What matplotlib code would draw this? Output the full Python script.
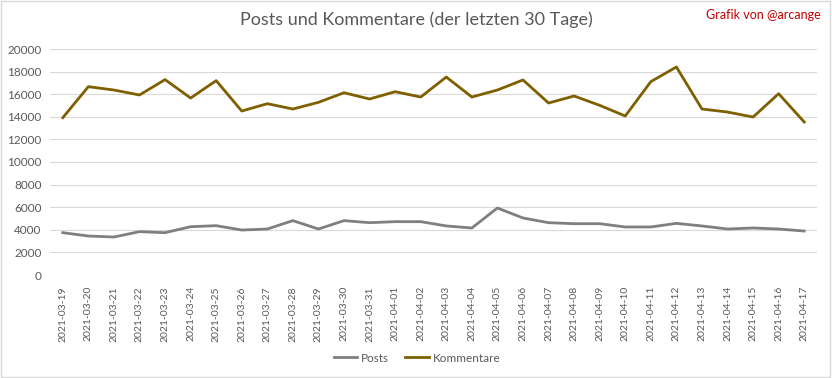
import matplotlib
matplotlib.use("Agg")
import matplotlib.pyplot as plt
from matplotlib.patches import Rectangle

plt.rcParams['font.family'] = ['Lato', 'DejaVu Sans']

# data
dates = ["2021-03-19", "2021-03-20", "2021-03-21", "2021-03-22", "2021-03-23",
         "2021-03-24", "2021-03-25", "2021-03-26", "2021-03-27", "2021-03-28",
         "2021-03-29", "2021-03-30", "2021-03-31", "2021-04-01", "2021-04-02",
         "2021-04-03", "2021-04-04", "2021-04-05", "2021-04-06", "2021-04-07",
         "2021-04-08", "2021-04-09", "2021-04-10", "2021-04-11", "2021-04-12",
         "2021-04-13", "2021-04-14", "2021-04-15", "2021-04-16", "2021-04-17"]
posts = [3745, 3450, 3360, 3835, 3745, 4275, 4365, 3980, 4070, 4810,
         4070, 4810, 4630, 4720, 4720, 4340, 4160, 5930, 5045, 4630,
         4540, 4540, 4250, 4250, 4570, 4340, 4070, 4160, 4070, 3890]
kommentare = [13920, 16665, 16370, 15930, 17290, 15660, 17200, 14510, 15160, 14690,
              15280, 16130, 15575, 16220, 15750, 17520, 15750, 16370, 17260, 15220,
              15840, 15015, 14070, 17110, 18410, 14690, 14420, 13980, 16045, 13540]
yticks = list(range(0, 20001, 2000))

text_col = "#595959"

fig = plt.figure(figsize=(8.32, 3.78), dpi=100)
ax = fig.add_axes([50 / 832, 1 - 275 / 378, 767 / 832, 226 / 378])

x = list(range(len(dates)))
ax.plot(x, posts, color="#7f7f7f", lw=2.0, label="Posts")
ax.plot(x, kommentare, color="#7f6000", lw=2.0, label="Kommentare")

ax.set_xlim(-0.5, len(dates) - 0.5)
ax.set_ylim(0, 20000)
ax.set_yticks(yticks)
ax.set_yticklabels([str(v) for v in yticks], fontsize=8.5, color=text_col)
ax.set_xticks(x)
ax.set_xticklabels(dates, rotation=90, fontsize=7.5, color=text_col)
ax.tick_params(axis="both", length=0, pad=6)
ax.tick_params(axis="x", pad=8)
ax.grid(axis="y", color="#d9d9d9", lw=0.8)
ax.set_axisbelow(True)
for s in ax.spines.values():
    s.set_visible(False)

fig.text(0.5, 1 - 20 / 378, "Posts und Kommentare (der letzten 30 Tage)",
         ha="center", va="center", fontsize=13, color=text_col)
fig.text(821 / 832, 1 - 15 / 378, "Grafik von @arcange",
         ha="right", va="center", fontsize=9, color="#c00000")

fig.legend(loc="center", bbox_to_anchor=(417 / 832, 1 - 358 / 378), ncol=2,
           frameon=False, fontsize=8.5, labelcolor=text_col,
           handlelength=2.0, handletextpad=0.3, columnspacing=1.4)

fig.patches.append(Rectangle((0.001, 0.002), 0.997, 0.995, transform=fig.transFigure,
                             fill=False, edgecolor="#d9d9d9", lw=1))

fig.savefig("out.png", dpi=100)
